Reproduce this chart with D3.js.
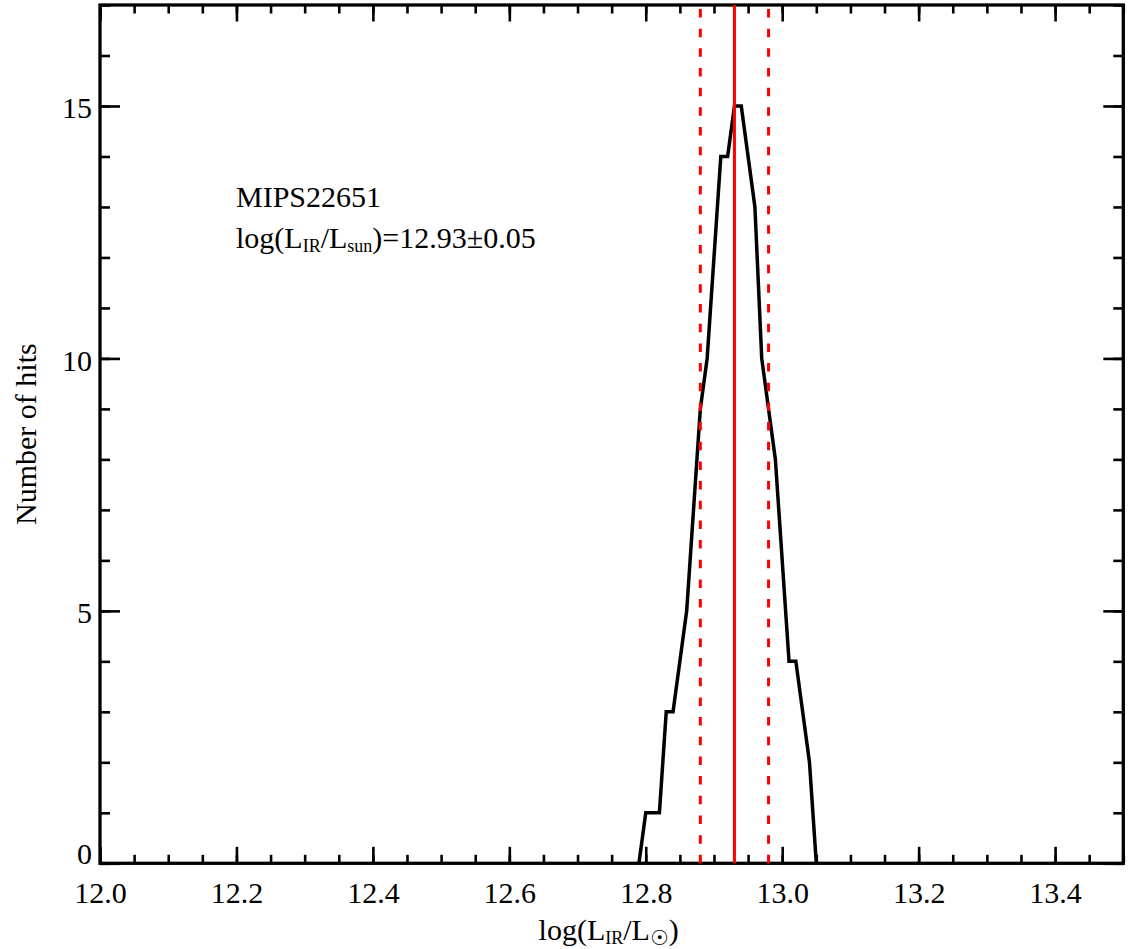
<!DOCTYPE html>
<html><head><meta charset="utf-8">
<script src="https://cdn.jsdelivr.net/npm/d3@7"></script>
<style>
html,body{margin:0;padding:0;background:#fff;}
svg{display:block;}
text{font-family:"Liberation Serif","Times New Roman",serif;}
</style>
</head><body>
<script>
// ---- data ----
const lumBins = [12.79,12.80,12.81,12.82,12.83,12.84,12.85,12.86,12.87,12.88,12.89,12.90,12.91,12.92,12.93,12.94,12.95,12.96,12.97,12.98,12.99,13.00,13.01,13.02,13.03,13.04,13.05];
const hits    = [0,1,1,1,3,3,4,5,7,9,10,12,14,14,15,15,14,13,10,9,8,6,4,4,3,2,0];
const bestLum = [12.93];
const boundLum = [12.88, 12.98];
const xDomain = [12.0, 13.5];
const yDomain = [0, 17];
const xMajorTicks = [12.0,12.2,12.4,12.6,12.8,13.0,13.2,13.4];
const xTickLabels = ["12.0","12.2","12.4","12.6","12.8","13.0","13.2","13.4"];
const yMajorTicks = [0,5,10,15];
const yTickLabels = ["0","5","10","15"];
const sourceName = "MIPS22651";
const resultText = ")=12.93\u00B10.05";
const yTitle = "Number of hits";

// ---- layout ----
const W = 1131, H = 949;
const L = 100, R = 1123.3, T = 5, B = 863.3;
const svg = d3.select("body").append("svg").attr("width", W).attr("height", H);
const x = d3.scaleLinear().domain(xDomain).range([L, R]);
const y = d3.scaleLinear().domain(yDomain).range([B, T]);

const xMinor = d3.range(0, 31).map(i => xDomain[0] + i * 0.05);
const yMinor = d3.range(yDomain[0], yDomain[1] + 1);

function styleAxis(g, w) {
  g.select(".domain").remove();
  g.attr("font-family", null).attr("font-size", null);
  g.selectAll("line").attr("stroke", "#000").attr("stroke-width", w);
}

// bottom
const gb = svg.append("g").attr("transform", `translate(0,${B})`);
gb.call(d3.axisBottom(x).tickValues(xMinor).tickFormat("").tickSize(-8.5).tickSizeOuter(0));
styleAxis(gb, 2.6);
const gb2 = svg.append("g").attr("transform", `translate(0,${B})`);
gb2.call(d3.axisBottom(x).tickValues(xMajorTicks).tickFormat((d, i) => xTickLabels[i]).tickSize(-16.5).tickSizeOuter(0));
styleAxis(gb2, 2.6);
gb2.selectAll("text").attr("y", 39.7).attr("dy", null).attr("font-size", 30).attr("fill", "#000");

// top
const gt = svg.append("g").attr("transform", `translate(0,${T})`);
gt.call(d3.axisTop(x).tickValues(xMinor).tickFormat("").tickSize(-8.5).tickSizeOuter(0));
styleAxis(gt, 2.6);
const gt2 = svg.append("g").attr("transform", `translate(0,${T})`);
gt2.call(d3.axisTop(x).tickValues(xMajorTicks).tickFormat("").tickSize(-16.5).tickSizeOuter(0));
styleAxis(gt2, 2.6);

// left
const gl = svg.append("g").attr("transform", `translate(${L},0)`);
gl.call(d3.axisLeft(y).tickValues(yMinor).tickFormat("").tickSize(-10).tickSizeOuter(0));
styleAxis(gl, 2.6);
const gl2 = svg.append("g").attr("transform", `translate(${L},0)`);
gl2.call(d3.axisLeft(y).tickValues(yMajorTicks).tickFormat((d, i) => yTickLabels[i]).tickSize(-20).tickPadding(8).tickSizeOuter(0));
styleAxis(gl2, 2.6);
gl2.selectAll("text").attr("font-size", 30).attr("fill", "#000")
  .attr("dy", d => d === yDomain[0] ? "0.02em" : "0.39em");

// right
const gr = svg.append("g").attr("transform", `translate(${R},0)`);
gr.call(d3.axisRight(y).tickValues(yMinor).tickFormat("").tickSize(-10).tickSizeOuter(0));
styleAxis(gr, 2.6);
const gr2 = svg.append("g").attr("transform", `translate(${R},0)`);
gr2.call(d3.axisRight(y).tickValues(yMajorTicks).tickFormat("").tickSize(-20).tickSizeOuter(0));
styleAxis(gr2, 2.6);

// frame
svg.append("rect").attr("x", L).attr("y", T).attr("width", R - L).attr("height", B - T)
  .attr("fill", "none").attr("stroke", "#000").attr("stroke-width", 3.3);

// histogram curve
const line = d3.line().x((d, i) => x(lumBins[i])).y(d => y(d));
svg.append("path").datum(hits).attr("d", line)
  .attr("fill", "none").attr("stroke", "#000").attr("stroke-width", 3.5)
  .attr("stroke-linejoin", "miter");

// red lines
svg.selectAll("line.bound").data(boundLum).enter().append("line").attr("class", "bound")
  .attr("x1", d => x(d)).attr("x2", d => x(d))
  .attr("y1", y(yDomain[0])).attr("y2", y(yDomain[1]))
  .attr("stroke", "#ff0000").attr("stroke-width", 3).attr("stroke-dasharray", "8.5 11.17");
svg.selectAll("line.best").data(bestLum).enter().append("line").attr("class", "best")
  .attr("x1", d => x(d)).attr("x2", d => x(d))
  .attr("y1", y(yDomain[0])).attr("y2", y(yDomain[1]))
  .attr("stroke", "#ff0000").attr("stroke-width", 3);

// annotations
svg.append("text").attr("x", 236).attr("y", 206.7).attr("font-size", 30).attr("fill", "#000").text(sourceName);
const ann = svg.append("text").attr("x", 236).attr("y", 248.3).attr("font-size", 30).attr("fill", "#000");
ann.append("tspan").text("log(L");
ann.append("tspan").attr("font-size", 18).attr("dy", 4).text("IR");
ann.append("tspan").attr("dy", -4).text("/L");
ann.append("tspan").attr("font-size", 18).attr("dy", 4).text("sun");
ann.append("tspan").attr("dy", -4).text(resultText);

// axis titles
const xt = svg.append("text").attr("x", (L + R) / 2 - 3).attr("y", 940).attr("text-anchor", "middle")
  .attr("font-size", 30).attr("fill", "#000");
xt.append("tspan").text("log(L");
xt.append("tspan").attr("font-size", 18).attr("dy", 4).text("IR");
xt.append("tspan").attr("dy", -4).text("/L");
xt.append("tspan").attr("font-size", 21).attr("dy", 5).attr("font-family", "DejaVu Sans").attr("font-weight", "bold").text("\u2609");
xt.append("tspan").attr("dy", -5).text(")");

svg.append("text").attr("transform", `translate(36,${(T + B) / 2}) rotate(-90)`)
  .attr("text-anchor", "middle").attr("font-size", 30).attr("fill", "#000").text(yTitle);
</script>
</body></html>
